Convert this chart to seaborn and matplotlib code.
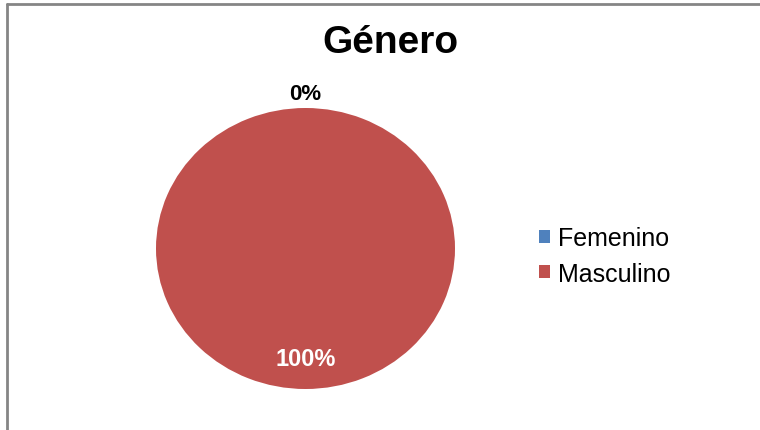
import numpy as np
import matplotlib
matplotlib.use("Agg")
import matplotlib.pyplot as plt
from matplotlib.lines import Line2D
import seaborn as sns

# Chart data
categories = ["Femenino", "Masculino"]
values = [0, 100]
colors = ["#4F81BD", "#C0504D"]
title = "Género"

sns.set_theme(style="white")
plt.rcParams["font.family"] = ["Liberation Sans", "DejaVu Sans"]
plt.rcParams["text.color"] = "black"

fig = plt.figure(figsize=(7.6, 4.31), dpi=100)
fig.patch.set_facecolor("white")

# Frame lines (left and top only visible in the reference)
fig.add_artist(Line2D([7 / 760, 7 / 760], [0, 1 - 5 / 431], color="#858585", lw=2))
fig.add_artist(Line2D([7 / 760, 1], [1 - 5 / 431, 1 - 5 / 431], color="#858585", lw=2))

# Pie axes
ax = fig.add_axes([156 / 760, 1 - 390 / 431, 299 / 760, 281 / 431])
wedges, _ = ax.pie(values, colors=colors, startangle=90, counterclock=False,
                   radius=1, wedgeprops=dict(linewidth=0))
ax.set_aspect("auto")
ax.set_xlim(-1, 1)
ax.set_ylim(-1, 1)
ax.axis("off")

# Percent labels
total = sum(values)
for w, v in zip(wedges, values):
    mid = np.deg2rad((w.theta1 + w.theta2) / 2)
    pct = f"{v / total * 100:.0f}%"
    if v == 0:
        r, col, fs = 1.1, "black", 16
    else:
        r, col, fs = 0.78, "white", 17
    ax.text(r * np.cos(mid), r * np.sin(mid), pct, ha="center", va="center",
            fontsize=fs, fontweight="bold", color=col, clip_on=False)

# Title
fig.text(390 / 760, 1 - 53 / 431, title, ha="center", va="baseline",
         fontsize=28, fontweight="bold", color="black")

# Legend
fig.legend(wedges, categories, loc="center left",
           bbox_to_anchor=(539 / 760, 1 - 257 / 431), frameon=False,
           fontsize=18, handlelength=0.44, handleheight=0.44,
           handletextpad=0.32, labelspacing=0.44, borderpad=0, borderaxespad=0)

fig.savefig("out.png", dpi=100, facecolor="white")
